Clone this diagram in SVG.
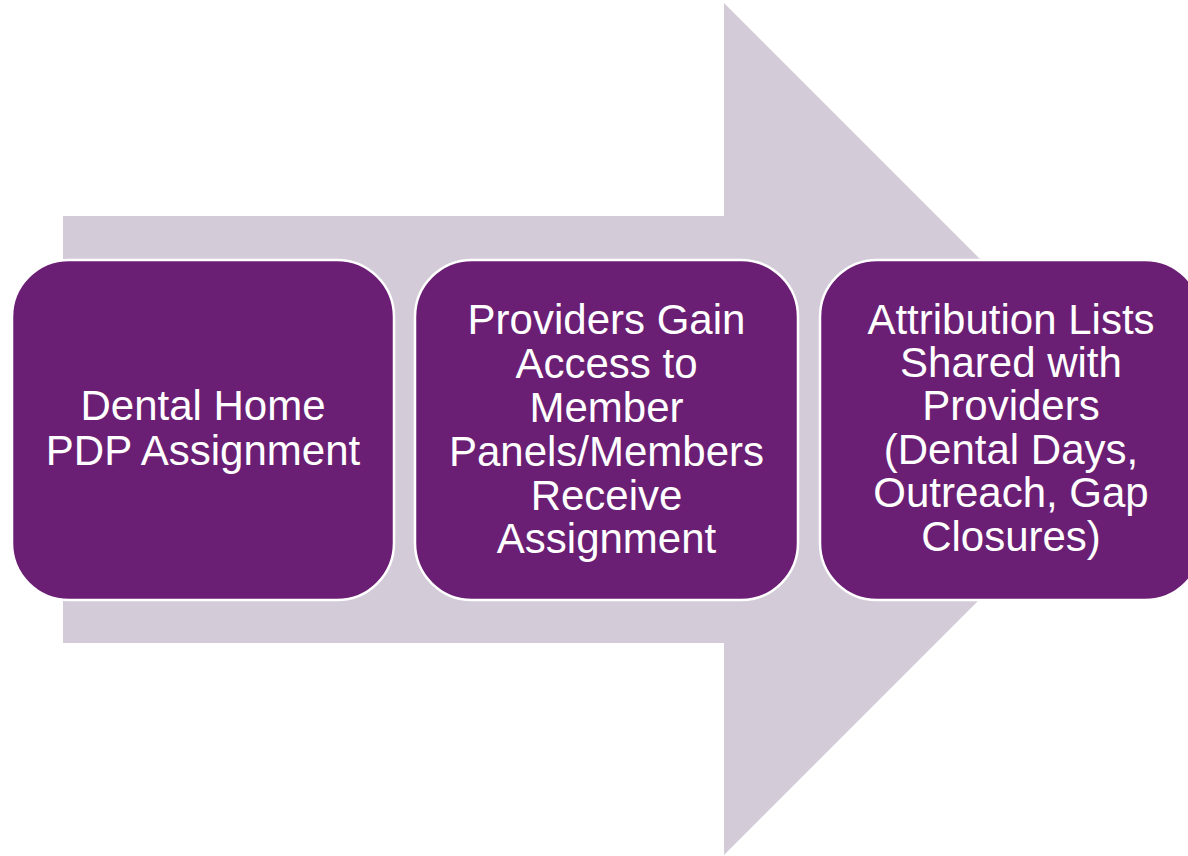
<svg xmlns="http://www.w3.org/2000/svg" width="1188" height="856" viewBox="0 0 1188 856">
  <style>
    .step { fill: #6B1F74; stroke: #FFFFFF; stroke-width: 2.5; }
    .label { fill: #FFFFFF; font-family: "Liberation Sans", Arial, sans-serif; font-size: 42px; text-anchor: middle; }
  </style>
  <rect width="1188" height="856" fill="#FFFFFF"/>
  <!-- background block arrow -->
  <g id="arrow">
    <polygon points="63,216 724,216 724,3 1150,429 724,855 724,643 63,643" fill="#D3CCD8"/>
  </g>
  <g id="connectors"/>
  <g id="step1">
    <rect class="step" x="12" y="260" width="382" height="340" rx="57" ry="57"/>
    <text class="label" x="203" y="420">Dental Home</text>
    <text class="label" x="203" y="465">PDP Assignment</text>
  </g>
  <g id="step2">
    <rect class="step" x="415" y="260" width="383" height="340" rx="57" ry="57"/>
    <text class="label" x="606.5" y="334">Providers Gain</text>
    <text class="label" x="606.5" y="378">Access to</text>
    <text class="label" x="606.5" y="422">Member</text>
    <text class="label" x="606.5" y="466">Panels/Members</text>
    <text class="label" x="606.5" y="510">Receive</text>
    <text class="label" x="606.5" y="553">Assignment</text>
  </g>
  <g id="step3">
    <rect class="step" x="820" y="260" width="382" height="340" rx="57" ry="57"/>
    <text class="label" x="1011" y="334">Attribution Lists</text>
    <text class="label" x="1011" y="377">Shared with</text>
    <text class="label" x="1011" y="420">Providers</text>
    <text class="label" x="1011" y="464">(Dental Days,</text>
    <text class="label" x="1011" y="507">Outreach, Gap</text>
    <text class="label" x="1011" y="551">Closures)</text>
  </g>
</svg>
